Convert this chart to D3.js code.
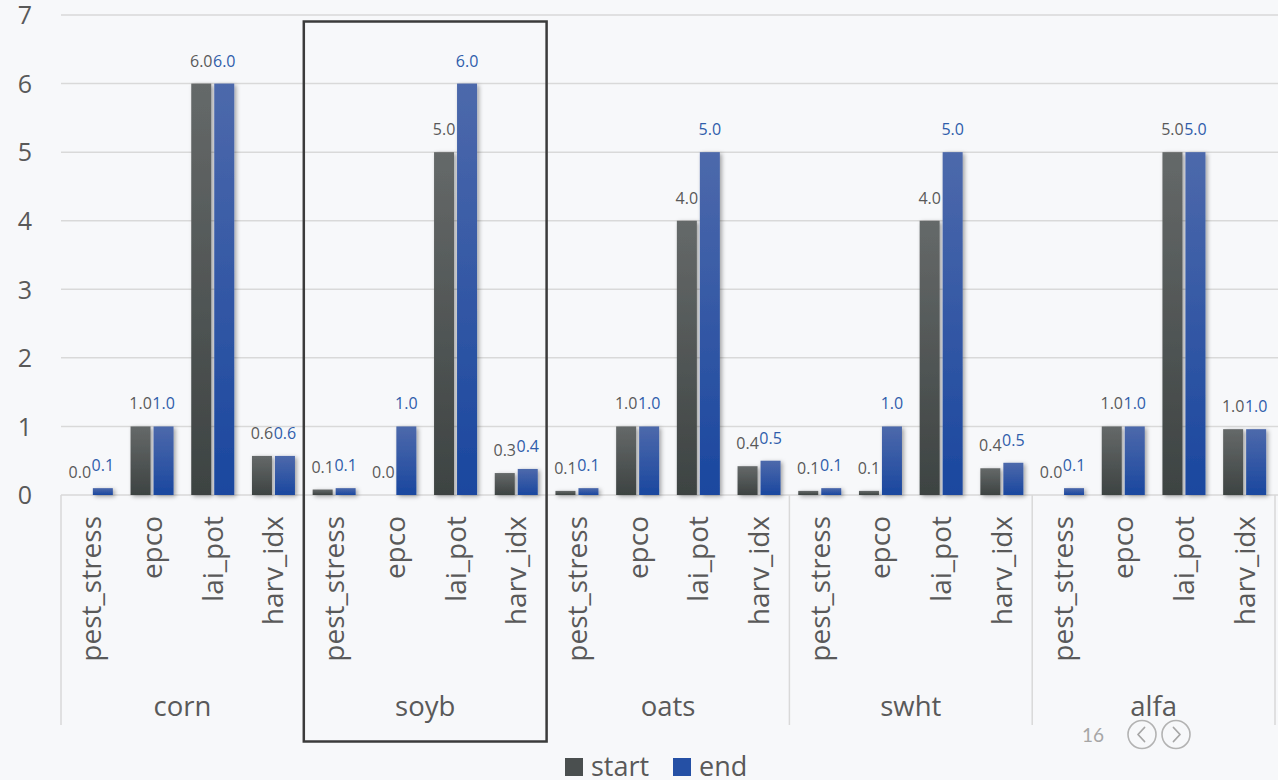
<!DOCTYPE html>
<html>
<head>
<meta charset="utf-8">
<script src="https://cdn.jsdelivr.net/npm/d3@7"></script>
<style>
  html, body { margin: 0; padding: 0; background: #f7f8fa; }
  svg { display: block; font-family: "Open Sans", "Noto Sans", sans-serif; }
</style>
</head>
<body>
<svg id="chart" width="1278" height="780"></svg>
<script>
// Crop parameters at the start and end of the run
const groups = ["corn", "soyb", "oats", "swht", "alfa"];
const metrics = ["pest_stress", "epco", "lai_pot", "harv_idx"];
const series = ["start", "end"];

// values per crop, in the order of `metrics`
const startValues = {
  corn: [0.0, 1.0, 6.0, 0.57],
  soyb: [0.08, 0.0, 5.0, 0.32],
  oats: [0.06, 1.0, 4.0, 0.42],
  swht: [0.06, 0.06, 4.0, 0.39],
  alfa: [0.0, 1.0, 5.0, 0.96]
};
const endValues = {
  corn: [0.1, 1.0, 6.0, 0.57],
  soyb: [0.1, 1.0, 6.0, 0.38],
  oats: [0.1, 1.0, 5.0, 0.5],
  swht: [0.1, 1.0, 5.0, 0.47],
  alfa: [0.1, 1.0, 5.0, 0.96]
};
const yTicks = [0, 1, 2, 3, 4, 5, 6, 7];
const highlighted = "soyb";
const pageNumber = "16";

const svg = d3.select("#chart");
const W = 1278;
const plotLeft = 61, plotRight = 1275, plotTop = 15, base = 495;

const y = d3.scaleLinear().domain([0, 7]).range([base, plotTop]);
const x0 = d3.scaleBand().domain(groups).range([plotLeft, plotRight]).padding(0);
const x1 = d3.scaleBand().domain(metrics).range([0, x0.bandwidth()]).padding(0);
const pairW = 43;
const x2 = d3.scaleBand().domain(series).range([0, pairW]).paddingInner(0.13);
const pairOff = (x1.bandwidth() - pairW) / 2;

const defs = svg.append("defs");
function grad(id, c1, c2) {
  const g = defs.append("linearGradient").attr("id", id)
    .attr("x1", 0).attr("y1", 0).attr("x2", 0).attr("y2", 1);
  g.append("stop").attr("offset", "0%").attr("stop-color", c1);
  g.append("stop").attr("offset", "100%").attr("stop-color", c2);
}
grad("g-start", "#656969", "#3d4342");
grad("g-end", "#4d69ab", "#1a479f");
const f = defs.append("filter").attr("id", "shadow")
  .attr("x", "-30%").attr("y", "-10%").attr("width", "170%").attr("height", "130%");
f.append("feDropShadow").attr("dx", 2).attr("dy", 1.5)
  .attr("stdDeviation", 2).attr("flood-color", "#000").attr("flood-opacity", 0.35);

const colors = { start: "url(#g-start)", end: "url(#g-end)" };
const labelColors = { start: "#595959", end: "#2f5dab" };
const legendColors = { start: "#4a4f4f", end: "#2550a5" };

// horizontal gridlines
svg.append("g").selectAll("line").data(yTicks).join("line")
  .attr("x1", plotLeft).attr("x2", W)
  .attr("y1", d => y(d)).attr("y2", d => y(d))
  .attr("stroke", "#d9d9d9").attr("stroke-width", 1.5);

// y axis labels
const yAxis = d3.axisLeft(y).tickValues(yTicks).tickSize(0).tickPadding(0).tickFormat(d3.format("d"));
const ya = svg.append("g").attr("transform", "translate(32,0)").call(yAxis);
ya.select(".domain").remove();
ya.selectAll("text").attr("fill", "#595959").attr("font-size", 25)
  .attr("font-family", "'Open Sans', sans-serif").attr("dy", "0.35em");

// category axis dividers
const bounds = groups.map(g => x0(g)).concat([plotRight]);
svg.append("g").selectAll("line").data(bounds).join("line")
  .attr("x1", d => d).attr("x2", d => d)
  .attr("y1", base).attr("y2", 725)
  .attr("stroke", "#d9d9d9").attr("stroke-width", 1.5);

// bars
const rows = [];
groups.forEach(g => metrics.forEach((m, i) => {
  rows.push({ g, m, s: "start", v: startValues[g][i] });
  rows.push({ g, m, s: "end", v: endValues[g][i] });
}));
const bx = d => x0(d.g) + x1(d.m) + pairOff + x2(d.s);

svg.append("g").attr("filter", "url(#shadow)").selectAll("rect")
  .data(rows.filter(d => d.v > 0)).join("rect")
  .attr("x", bx).attr("width", x2.bandwidth())
  .attr("y", d => y(d.v)).attr("height", d => base - y(d.v))
  .attr("fill", d => colors[d.s]);

// value labels
const fmt = d3.format(".1f");
svg.append("g").selectAll("text").data(rows).join("text")
  .attr("x", d => bx(d) + x2.bandwidth() / 2)
  .attr("y", d => y(d.v) - 17)
  .attr("text-anchor", "middle")
  .attr("font-size", 16)
  .attr("fill", d => labelColors[d.s])
  .text(d => fmt(d.v));

// metric labels (rotated)
const subs = [];
groups.forEach(g => metrics.forEach(m => subs.push({ g, m })));
svg.append("g").selectAll("text").data(subs).join("text")
  .attr("transform", d => `translate(${x0(d.g) + x1(d.m) + x1.bandwidth() / 2 + 10},516) rotate(-90)`)
  .attr("text-anchor", "end")
  .attr("font-size", 28)
  .attr("fill", "#595959")
  .text(d => d.m);

// crop labels
svg.append("g").selectAll("text").data(groups).join("text")
  .attr("x", d => x0(d) + x0.bandwidth() / 2)
  .attr("y", 716)
  .attr("text-anchor", "middle")
  .attr("font-size", 27.5)
  .attr("fill", "#595959")
  .text(d => d);

// highlight frame around one crop
svg.append("rect")
  .attr("x", x0(highlighted)).attr("y", 21.5)
  .attr("width", x0.bandwidth()).attr("height", 720)
  .attr("fill", "none").attr("stroke", "#3b3b3b").attr("stroke-width", 2.5);

// legend
const legend = svg.append("g");
const legendX = { start: 565, end: 673 };
series.forEach(s => {
  legend.append("rect").attr("x", legendX[s]).attr("y", 758)
    .attr("width", 18).attr("height", 18).attr("fill", legendColors[s]);
  legend.append("text").attr("x", legendX[s] + 26).attr("y", 776)
    .attr("font-size", 27).attr("fill", "#595959").text(s);
});

// page indicator with navigation buttons
const nav = svg.append("g").attr("font-family", "Lato, sans-serif");
nav.append("text").attr("x", 1093).attr("y", 742).attr("text-anchor", "middle")
  .attr("font-size", 19).attr("fill", "#a6a6a6").text(pageNumber);
[[1142, -1], [1176, 1]].forEach(([cx, dir]) => {
  nav.append("circle").attr("cx", cx).attr("cy", 734.5).attr("r", 14)
    .attr("fill", "none").attr("stroke", "#b3b3b3").attr("stroke-width", 1.6);
  nav.append("path")
    .attr("d", `M${cx - dir * 2.5},${734.5 - 7}L${cx + dir * 4},734.5L${cx - dir * 2.5},${734.5 + 7}`)
    .attr("fill", "none").attr("stroke", "#a6a6a6").attr("stroke-width", 1.8)
    .attr("stroke-linecap", "round").attr("stroke-linejoin", "round");
});
</script>
</body>
</html>
